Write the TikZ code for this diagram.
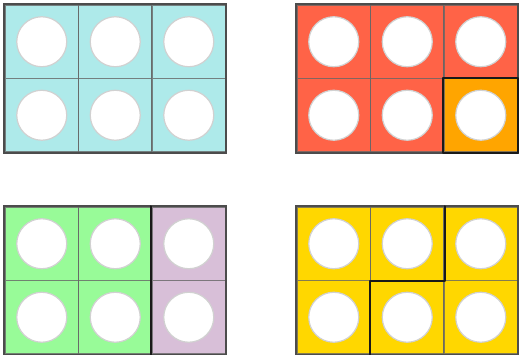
\documentclass[tikz,border=0pt]{standalone}
\usetikzlibrary{positioning}

\definecolor{tilecyan}{HTML}{AEEAEA}
\definecolor{tilered}{HTML}{FF6347}
\definecolor{tileorange}{HTML}{FFA500}
\definecolor{tilegreen}{HTML}{98FB98}
\definecolor{tilethistle}{HTML}{D8BFD8}
\definecolor{tilegold}{HTML}{FFD700}

\begin{document}
\begin{tikzpicture}[x=1pt, y=-1pt,
    cell/.style={rectangle, draw=black!60, draw opacity=0.8, line width=1.5pt, minimum size=73.5pt, inner sep=0pt},
    hole/.style={circle, fill=white, draw=black!18, line width=1.2pt, minimum size=50pt, inner sep=0pt},
    piece/.style={draw=black!90, line width=2pt, line cap=round, line join=round},
    frame/.style={draw=black!70, line width=2pt}]
    \useasboundingbox (0,0) rectangle (522,355);

    % Top left: all cyan
    \foreach \c/\r/\col in {0/0/tilecyan, 1/0/tilecyan, 2/0/tilecyan,
                            0/1/tilecyan, 1/1/tilecyan, 2/1/tilecyan} {
        \node[cell, fill=\col] (a\c\r) at (41.75+73.5*\c, 41.75+73.5*\r) {};
        \node[hole] (ha\c\r) at (a\c\r) {};
    }
    \draw[frame] (a00.north west) rectangle (a21.south east);

    % Top right: red with one orange cell
    \foreach \c/\r/\col in {0/0/tilered, 1/0/tilered, 2/0/tilered,
                            0/1/tilered, 1/1/tilered, 2/1/tileorange} {
        \node[cell, fill=\col] (b\c\r) at (333.75+73.5*\c, 41.75+73.5*\r) {};
        \node[hole] (hb\c\r) at (b\c\r) {};
    }
    \draw[frame] (b00.north west) rectangle (b21.south east);
    \draw[piece] (b21.north west) rectangle (b21.south east);

    % Bottom left: green and thistle
    \foreach \c/\r/\col in {0/0/tilegreen, 1/0/tilegreen, 2/0/tilethistle,
                            0/1/tilegreen, 1/1/tilegreen, 2/1/tilethistle} {
        \node[cell, fill=\col] (c\c\r) at (41.75+73.5*\c, 243.75+73.5*\r) {};
        \node[hole] (hc\c\r) at (c\c\r) {};
    }
    \draw[frame] (c00.north west) rectangle (c21.south east);
    \draw[piece] (c20.north west) -- (c21.south west);

    % Bottom right: two gold pieces
    \foreach \c/\r/\col in {0/0/tilegold, 1/0/tilegold, 2/0/tilegold,
                            0/1/tilegold, 1/1/tilegold, 2/1/tilegold} {
        \node[cell, fill=\col] (d\c\r) at (333.75+73.5*\c, 243.75+73.5*\r) {};
        \node[hole] (hd\c\r) at (d\c\r) {};
    }
    \draw[frame] (d00.north west) rectangle (d21.south east);
    \draw[piece] (d10.north east) -- (d10.south east) -- (d10.south west) -- (d11.south west);
\end{tikzpicture}
\end{document}
